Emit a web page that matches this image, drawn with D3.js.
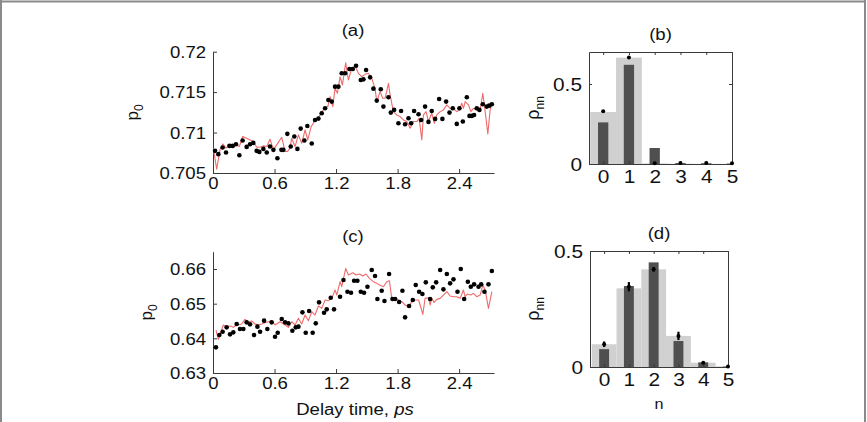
<!DOCTYPE html>
<html><head><meta charset="utf-8">
<script src="https://cdn.jsdelivr.net/npm/d3@7"></script>
<style>
body{margin:0;background:#fff}
svg{display:block}
text{font-family:"Liberation Sans",Arial,Helvetica,sans-serif;fill:#111}
</style>
</head><body>
<svg id="chart" width="867" height="422"></svg>
<script>
// ---------- data ----------
const dotTimeA = [0.020,0.052,0.094,0.127,0.160,0.192,0.224,0.257,0.289,0.328,0.361,0.393,0.426,0.452,0.491,0.524,0.556,0.589,0.628,0.667,0.686,0.725,0.758,0.793,0.823,0.855,0.891,0.920,0.963,0.995,1.028,1.060,1.093,1.125,1.158,1.190,1.223,1.255,1.288,1.330,1.363,1.395,1.441,1.467,1.493,1.532,1.564,1.597,1.636,1.662,1.711,1.734,1.766,1.808,1.834,1.873,1.906,1.932,1.961,2.004,2.029,2.068,2.101,2.133,2.166,2.205,2.237,2.273,2.306,2.338,2.377,2.403,2.436,2.475,2.501,2.524,2.546,2.572,2.598,2.631,2.670,2.693,2.719];
const dotValA = [0.70774,0.70733,0.70815,0.70753,0.70835,0.70835,0.70856,0.7072,0.70901,0.70823,0.70856,0.70872,0.70774,0.70761,0.70798,0.70753,0.70827,0.70786,0.70683,0.70786,0.70786,0.70984,0.70827,0.70951,0.70798,0.71049,0.70901,0.71082,0.70864,0.71156,0.71173,0.71239,0.713,0.71403,0.71383,0.71568,0.71568,0.71733,0.71733,0.71786,0.71786,0.71827,0.7165,0.71658,0.71774,0.71683,0.71543,0.71395,0.71535,0.71321,0.71436,0.71247,0.7128,0.71115,0.71267,0.71103,0.71177,0.71115,0.71267,0.71226,0.71156,0.71321,0.71132,0.71267,0.71169,0.71416,0.71169,0.71383,0.71247,0.713,0.71107,0.713,0.71136,0.71436,0.71206,0.71206,0.71218,0.713,0.7128,0.7135,0.71321,0.71333,0.7135];
const lineTimeA = [0.003,0.036,0.068,0.094,0.127,0.160,0.192,0.224,0.257,0.289,0.328,0.361,0.393,0.426,0.459,0.491,0.524,0.556,0.589,0.621,0.670,0.703,0.725,0.751,0.767,0.800,0.833,0.865,0.898,0.924,0.957,0.989,1.022,1.054,1.087,1.119,1.142,1.168,1.190,1.213,1.239,1.262,1.294,1.320,1.353,1.385,1.418,1.450,1.483,1.515,1.548,1.580,1.597,1.629,1.655,1.678,1.711,1.727,1.759,1.792,1.824,1.857,1.889,1.922,1.954,1.987,2.010,2.036,2.052,2.078,2.101,2.133,2.159,2.182,2.215,2.247,2.280,2.312,2.345,2.377,2.403,2.426,2.442,2.459,2.491,2.514,2.540,2.572,2.605,2.631,2.654,2.680,2.702,2.719];
const lineValA = [0.70807,0.70547,0.70786,0.7086,0.70807,0.70848,0.70835,0.70848,0.70827,0.70951,0.7093,0.70909,0.70889,0.70819,0.70819,0.70835,0.70827,0.70918,0.70786,0.70848,0.70942,0.70765,0.70765,0.70807,0.7093,0.70827,0.70971,0.70868,0.71033,0.70909,0.71074,0.71136,0.71169,0.71239,0.713,0.71321,0.71444,0.71321,0.71547,0.71486,0.71691,0.71588,0.71864,0.7165,0.71794,0.71823,0.71733,0.71691,0.7172,0.71733,0.71671,0.71547,0.71383,0.71506,0.71424,0.71424,0.71609,0.71465,0.71259,0.71218,0.71198,0.71156,0.71136,0.71053,0.71136,0.71136,0.71177,0.70909,0.71218,0.71259,0.71136,0.71239,0.71115,0.71218,0.71259,0.7128,0.71342,0.713,0.713,0.71259,0.7128,0.71362,0.713,0.71383,0.71342,0.71259,0.713,0.7128,0.7128,0.71486,0.71259,0.70984,0.7128,0.71342];

const dotTimeC = [0.029,0.062,0.094,0.133,0.166,0.198,0.231,0.263,0.296,0.328,0.361,0.400,0.433,0.459,0.498,0.530,0.572,0.605,0.631,0.670,0.703,0.735,0.774,0.807,0.833,0.872,0.904,0.937,0.972,1.002,1.034,1.083,1.109,1.148,1.180,1.239,1.272,1.311,1.346,1.376,1.408,1.441,1.473,1.506,1.548,1.580,1.603,1.645,1.672,1.717,1.750,1.776,1.815,1.847,1.873,1.912,1.948,1.977,2.010,2.042,2.075,2.117,2.143,2.176,2.215,2.247,2.280,2.312,2.345,2.384,2.416,2.449,2.485,2.514,2.546,2.589,2.615,2.647,2.686,2.719];
const dotValC = [0.6374,0.64096,0.64192,0.64317,0.64115,0.64173,0.64413,0.64269,0.64269,0.64462,0.64404,0.64096,0.64337,0.64192,0.6451,0.64269,0.64462,0.64048,0.64163,0.64558,0.64462,0.64433,0.64221,0.64317,0.64337,0.6475,0.64163,0.64788,0.64163,0.64433,0.65038,0.6474,0.64837,0.65173,0.64837,0.65202,0.65683,0.65346,0.65317,0.65663,0.65663,0.65346,0.65317,0.6549,0.65971,0.65798,0.65135,0.65375,0.65077,0.65856,0.65135,0.65135,0.65048,0.65375,0.64606,0.64933,0.65106,0.65538,0.65346,0.65279,0.65615,0.65135,0.65471,0.65615,0.65971,0.65413,0.65856,0.65587,0.65702,0.65346,0.66,0.65135,0.65635,0.6549,0.65558,0.6549,0.65558,0.65346,0.65558,0.65942];
const lineTimeC = [0.029,0.052,0.101,0.133,0.166,0.198,0.231,0.280,0.312,0.345,0.377,0.410,0.442,0.475,0.507,0.540,0.572,0.605,0.654,0.703,0.735,0.768,0.800,0.833,0.865,0.898,0.930,0.963,0.995,1.028,1.060,1.093,1.125,1.158,1.190,1.207,1.239,1.255,1.294,1.320,1.363,1.395,1.428,1.460,1.493,1.525,1.564,1.597,1.623,1.662,1.694,1.720,1.743,1.776,1.808,1.841,1.873,1.906,1.938,1.971,2.004,2.020,2.046,2.068,2.101,2.117,2.133,2.156,2.182,2.215,2.247,2.280,2.312,2.345,2.377,2.410,2.442,2.459,2.481,2.514,2.540,2.572,2.605,2.631,2.654,2.686,2.719];
const lineValC = [0.6424,0.63971,0.64385,0.64317,0.64356,0.64317,0.64385,0.64413,0.64548,0.64481,0.645,0.64413,0.64385,0.64413,0.64452,0.64481,0.6451,0.64385,0.64481,0.64385,0.64317,0.64481,0.64385,0.64577,0.64413,0.64673,0.6451,0.64769,0.64673,0.64933,0.64865,0.65106,0.65087,0.65154,0.65394,0.6525,0.65635,0.6549,0.6602,0.65827,0.65894,0.65827,0.65856,0.65798,0.65856,0.65731,0.65635,0.65587,0.65538,0.6549,0.65635,0.65663,0.65154,0.65154,0.65106,0.65058,0.64962,0.64913,0.65058,0.65106,0.65106,0.64962,0.64692,0.65154,0.65173,0.64962,0.65154,0.65038,0.65125,0.65154,0.6525,0.65346,0.65221,0.65202,0.65202,0.65154,0.65394,0.65202,0.65279,0.6525,0.65298,0.65202,0.6525,0.65538,0.65394,0.64865,0.65346];

const photonN = [0,1,2,3,4,5];
const lightB = [0.325,0.665,0.004,0.002,0.001,0.001];
const darkB  = [0.26,0.62,0.10,0.006,0.005,0.003];
const dotB   = [0.33,0.665,0.004,0.006,0.006,0.004];
const errB   = [0.006,0.004,0.002,0.002,0.002,0.002];
const lightD = [0.098,0.339,0.421,0.134,0.0185,0.003];
const darkD  = [0.077,0.349,0.451,0.112,0.02,0.002];
const dotD   = [0.098,0.346,0.421,0.134,0.0185,0.002];
const errD   = [0.012,0.02,0.01,0.018,0.003,0.002];

const timeTicks = [0,0.6,1.2,1.8,2.4];
const ticksA = [0.705,0.71,0.715,0.72];
const ticksC = [0.63,0.64,0.65,0.66];
const ticksRho = [0,0.5];

// ---------- drawing ----------
const svg = d3.select("#chart");
const AXC = "#3a3a3a";
const STRETCH = 1.16;

// figure frame
svg.append("line").attr("x1",1).attr("x2",1).attr("y1",0).attr("y2",422).attr("stroke","#8a8a8a").attr("stroke-width",2);
svg.append("line").attr("x1",0).attr("x2",866).attr("y1",1.5).attr("y2",1.5).attr("stroke","#8a8a8a").attr("stroke-width",2);
svg.append("line").attr("x1",865).attr("x2",865).attr("y1",0).attr("y2",422).attr("stroke","#8a8a8a").attr("stroke-width",2);

function styleAxis(g, fs){
  g.select(".domain").attr("stroke",AXC).attr("stroke-width",1);
  g.selectAll(".tick line").attr("stroke",AXC);
  g.selectAll("text").attr("font-size",fs).attr("fill","#111")
    .attr("font-family","'Liberation Sans',Arial,sans-serif");
}
function stretch(sel){
  sel.each(function(){
    const t = this; const L = t.getComputedTextLength();
    if (L>0){ t.setAttribute("textLength", (L*STRETCH).toFixed(1)); t.setAttribute("lengthAdjust","spacingAndGlyphs"); }
  });
}

function timePanel(o){
  const x = d3.scaleLinear().domain([0,2.74]).range([213,494]);
  const y = d3.scaleLinear().domain(o.yDom).range([o.bottom,o.top]);
  const g = svg.append("g");
  const gx = g.append("g").attr("transform",`translate(0,${o.bottom})`)
    .call(d3.axisBottom(x).tickValues(timeTicks).tickFormat(d3.format("")).tickSizeInner(-4).tickSizeOuter(0).tickPadding(5));
  styleAxis(gx, 16);
  gx.selectAll(".tick text").attr("dy","0.71em");
  const gy = g.append("g").attr("transform","translate(213,0)")
    .call(d3.axisLeft(y).tickValues(o.ticks).tickFormat(d=>String(+d.toFixed(3))).tickSizeInner(-4).tickSizeOuter(0).tickPadding(7));
  styleAxis(gy, 16);
  gy.selectAll(".tick text").attr("dy","0.36em");
  stretch(gx.selectAll("text")); stretch(gy.selectAll("text"));

  const line = d3.line().x(d=>x(d[0])).y(d=>y(d[1]));
  g.append("path").datum(d3.zip(o.lt,o.lv)).attr("d",line)
    .attr("fill","none").attr("stroke","#ef6a6a").attr("stroke-width",1.1).attr("stroke-linejoin","round");
  g.append("g").selectAll("circle").data(d3.zip(o.dt,o.dv)).join("circle")
    .attr("cx",d=>x(d[0])).attr("cy",d=>y(d[1])).attr("r",2.3).attr("fill","#000");

  const tt = g.append("text").attr("x",353).attr("y",o.titleY).attr("text-anchor","middle").attr("font-size",16).text(o.title);
  stretch(tt);
  const yl = g.append("text").attr("transform",`translate(${o.ylabX},${(o.top+o.bottom)/2}) rotate(-90)`)
    .attr("text-anchor","middle").attr("font-size",17);
  yl.append("tspan").text("p");
  yl.append("tspan").attr("font-size",12).attr("dy",5).text("0");
}

timePanel({yDom:[0.705,0.72], top:51.7, bottom:173, ticks:ticksA, dt:dotTimeA, dv:dotValA, lt:lineTimeA, lv:lineValA, title:"(a)", titleY:36, ylabX:138});
timePanel({yDom:[0.63,0.665], top:251.7, bottom:373, ticks:ticksC, dt:dotTimeC, dv:dotValC, lt:lineTimeC, lv:lineValC, title:"(c)", titleY:242, ylabX:152});

function barPanel(o){
  const x = d3.scaleLinear().domain([o.xmin,5]).range([o.left,o.right]);
  const y = d3.scaleLinear().domain([0,o.ymax]).range([o.bottom,o.top]);
  const g = svg.append("g");
  const unit = x(1)-x(0);
  g.append("g").selectAll("rect").data(photonN).join("rect")
    .attr("x",d=>x(d)-unit/2).attr("width",unit)
    .attr("y",d=>y(o.light[d])).attr("height",d=>o.bottom-y(o.light[d]))
    .attr("fill","#d0d0d0");
  g.append("g").selectAll("rect").data(photonN).join("rect")
    .attr("x",d=>x(d)-unit*0.2).attr("width",unit*0.4)
    .attr("y",d=>y(o.dark[d])).attr("height",d=>o.bottom-y(o.dark[d]))
    .attr("fill","#4f4f4f");
  // mask the part of the last bar outside the axes box
  g.append("rect").attr("x",o.right+0.5).attr("y",o.top).attr("width",14).attr("height",o.bottom-o.top+1).attr("fill","#fff");

  const gx = g.append("g").attr("transform",`translate(0,${o.bottom})`)
    .call(d3.axisBottom(x).tickValues(photonN).tickFormat(d3.format("d")).tickSizeInner(-3).tickSizeOuter(0).tickPadding(6));
  styleAxis(gx, 18);
  gx.selectAll(".tick text").attr("dy","0.71em");
  const gy = g.append("g").attr("transform",`translate(${o.left},0)`)
    .call(d3.axisLeft(y).tickValues(ticksRho).tickFormat(d=>String(d)).tickSizeInner(-3).tickSizeOuter(0).tickPadding(7));
  styleAxis(gy, 18);
  gy.selectAll(".tick text").attr("dy","0.36em");
  const gt = g.append("g").attr("transform",`translate(0,${o.top})`)
    .call(d3.axisTop(x).tickValues(photonN).tickFormat("").tickSizeInner(-3).tickSizeOuter(0));
  styleAxis(gt, 18);
  const gr = g.append("g").attr("transform",`translate(${o.right},0)`)
    .call(d3.axisRight(y).tickValues(ticksRho).tickFormat("").tickSizeInner(-3).tickSizeOuter(0));
  styleAxis(gr, 18);
  stretch(gx.selectAll("text")); stretch(gy.selectAll("text"));

  // data points with error bars
  const pts = g.append("g");
  pts.selectAll("line").data(photonN).join("line")
    .attr("x1",d=>x(d)).attr("x2",d=>x(d))
    .attr("y1",d=>y(o.dot[d]-o.err[d])).attr("y2",d=>y(o.dot[d]+o.err[d]))
    .attr("stroke","#000").attr("stroke-width",2.2);
  pts.selectAll("circle").data(photonN).join("circle")
    .attr("cx",d=>x(d)).attr("cy",d=>y(o.dot[d])).attr("r",2).attr("fill","#000");

  const tt = g.append("text").attr("x",(o.left+o.right)/2).attr("y",o.titleY).attr("text-anchor","middle").attr("font-size",16).text(o.title);
  stretch(tt);
  const yl = g.append("text").attr("transform",`translate(${o.ylabX},${(o.top+o.bottom)/2}) rotate(-90)`)
    .attr("text-anchor","middle").attr("font-size",18);
  yl.append("tspan").text("ρ");
  yl.append("tspan").attr("font-size",12).attr("dy",5).text("nn");
  if (o.xlabel){
    const xl = g.append("text").attr("x",(o.left+o.right)/2).attr("y",o.xlabelY).attr("text-anchor","middle").attr("font-size",14).text(o.xlabel);
    stretch(xl);
  }
}

barPanel({xmin:-0.55, left:589, right:732, top:52, bottom:164, ymax:0.7, light:lightB, dark:darkB, dot:dotB, err:errB, title:"(b)", titleY:40, ylabX:539});
barPanel({xmin:-0.57, left:590, right:728, top:251, bottom:367, ymax:0.5, light:lightD, dark:darkD, dot:dotD, err:errD, title:"(d)", titleY:239, ylabX:539, xlabel:"n", xlabelY:409});

// x label time
const xl = svg.append("text").attr("x",355).attr("y",415).attr("text-anchor","middle").attr("font-size",16);
xl.append("tspan").text("Delay time, ");
xl.append("tspan").attr("font-style","italic").text("ps");
stretch(xl);
</script>
</body></html>
